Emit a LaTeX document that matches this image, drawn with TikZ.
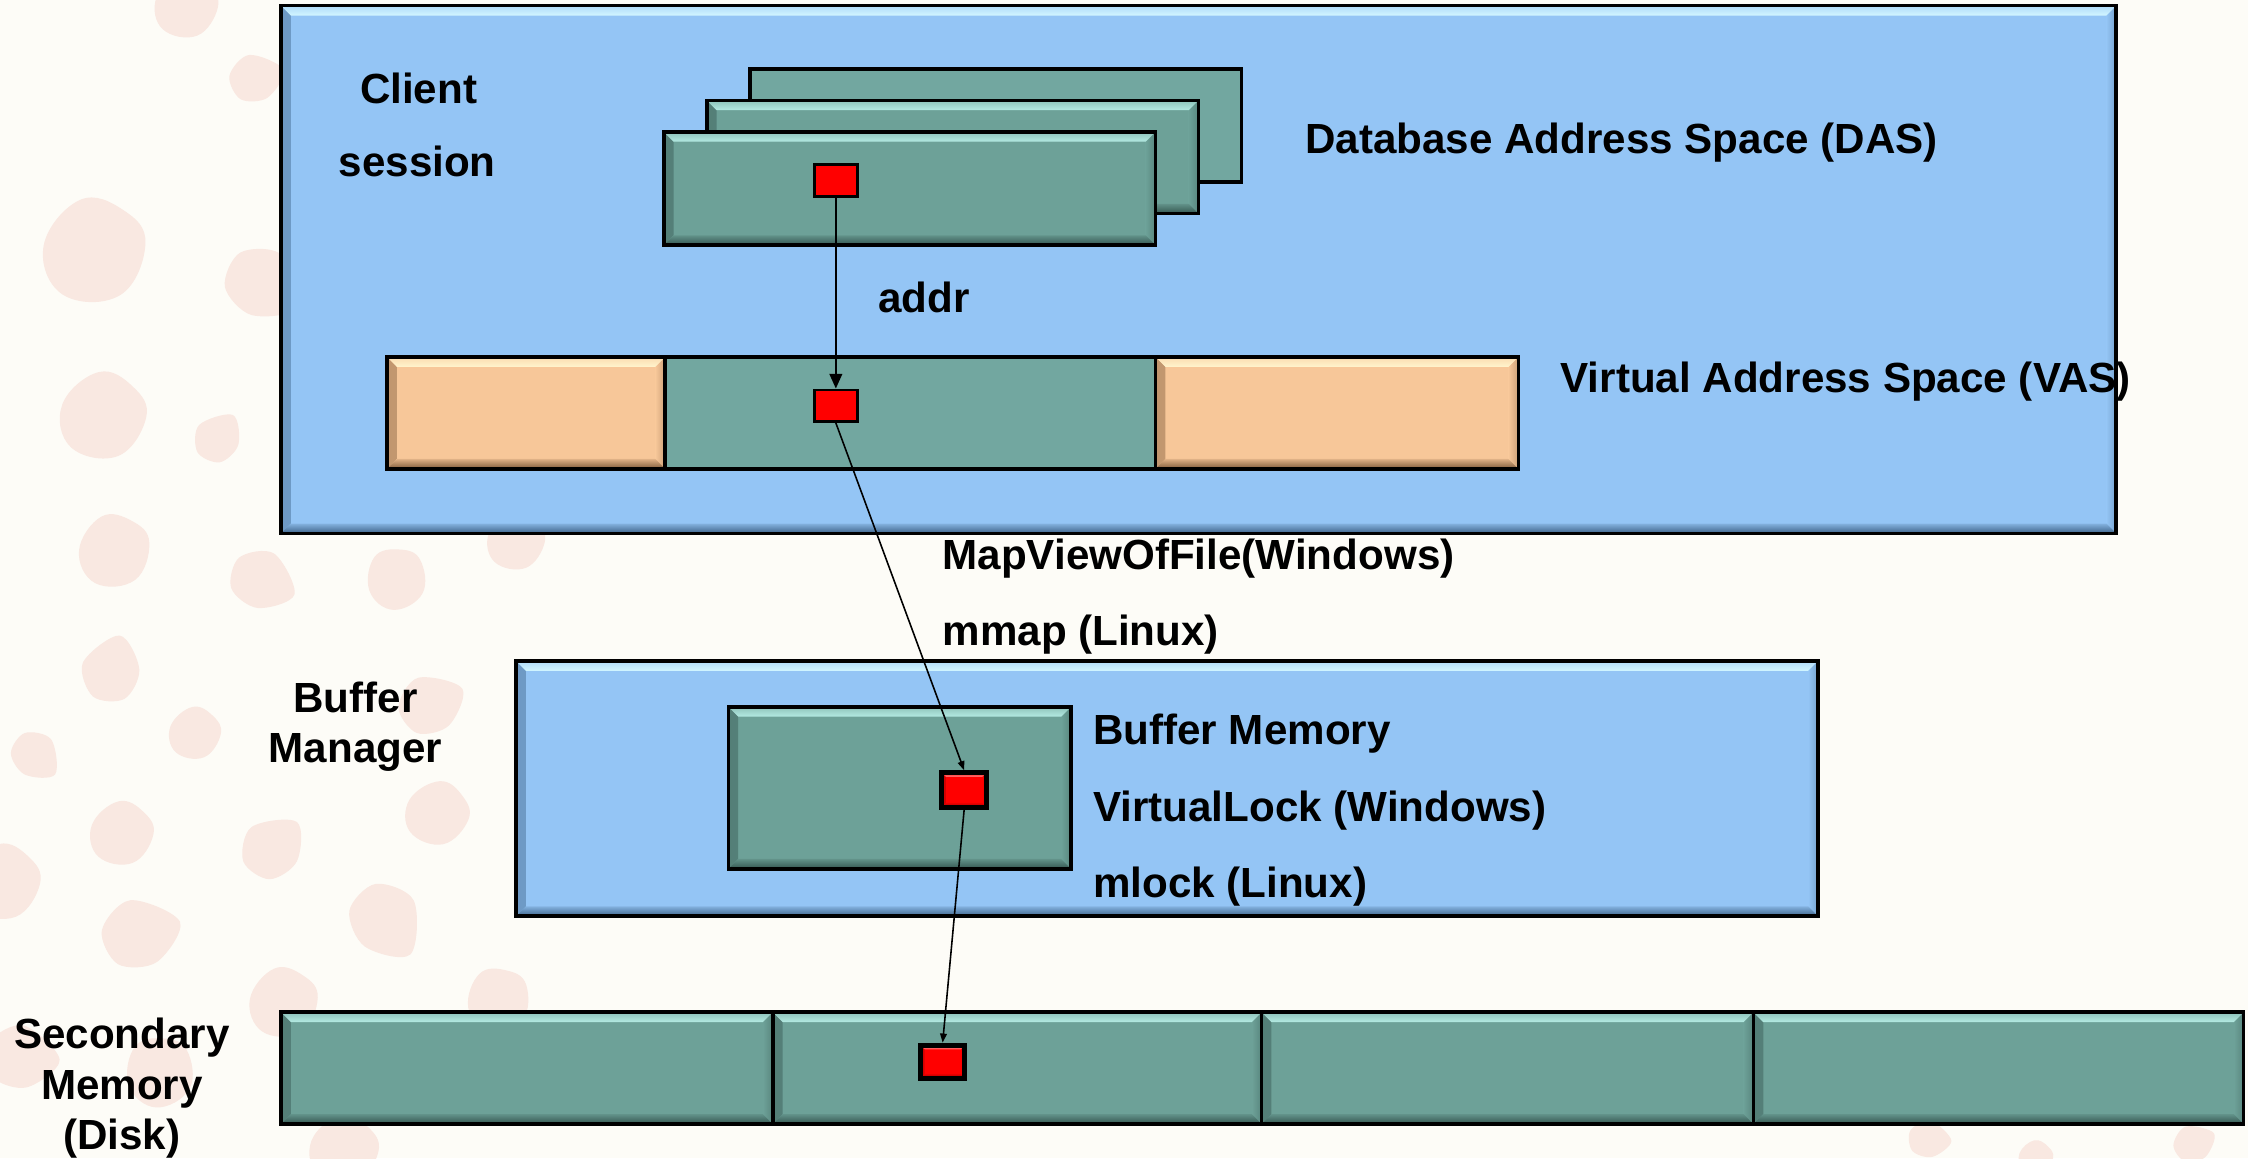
\documentclass[tikz,border=0pt]{standalone}
\usepackage{fontspec}
\setmainfont{Liberation Sans}
\usetikzlibrary{fit,arrows.meta}

\definecolor{paper}{HTML}{FDFCF7}
\definecolor{blobc}{HTML}{F9E8E1}
\definecolor{blueC}{HTML}{94C5F5}
\definecolor{blueL}{HTML}{D2F6FF}
\definecolor{blueD}{HTML}{3F6489}
\definecolor{tealC}{HTML}{6DA198}
\definecolor{tealL}{HTML}{B4EAE2}
\definecolor{tealD}{HTML}{34554F}
\definecolor{tealF}{HTML}{72A7A0}
\definecolor{peachC}{HTML}{F7C799}
\definecolor{peachL}{HTML}{FFF4CC}
\definecolor{peachD}{HTML}{7E5A3A}
\definecolor{redC}{HTML}{FF0000}
\definecolor{redL}{HTML}{FF7070}
\definecolor{redD}{HTML}{9A0000}

% bevelled rectangle: #1 base, #2 highlight (top), #3 shadow (bottom)
\tikzset{
  bevel depth/.store in=\bvl, bevel depth=2.8pt,
  bevel/.style n args={3}{
    fill=#1,
    path picture={
      \shade[left color=#3!45!#1, right color=#1]
        (path picture bounding box.north west) -- (path picture bounding box.south west)
        -- ([shift={(\bvl,\bvl)}]path picture bounding box.south west)
        -- ([shift={(\bvl,-\bvl)}]path picture bounding box.north west) -- cycle;
      \shade[left color=#1, right color=#3!35!#1]
        (path picture bounding box.north east) -- (path picture bounding box.south east)
        -- ([shift={(-\bvl,\bvl)}]path picture bounding box.south east)
        -- ([shift={(-\bvl,-\bvl)}]path picture bounding box.north east) -- cycle;
      \shade[top color=#2!45!#1, bottom color=#2]
        (path picture bounding box.north west) -- (path picture bounding box.north east)
        -- ([shift={(-\bvl,-\bvl)}]path picture bounding box.north east)
        -- ([shift={(\bvl,-\bvl)}]path picture bounding box.north west) -- cycle;
      \shade[top color=#1!80!#3, bottom color=#3]
        (path picture bounding box.south west) -- (path picture bounding box.south east)
        -- ([shift={(-\bvl,\bvl)}]path picture bounding box.south east)
        -- ([shift={(\bvl,\bvl)}]path picture bounding box.south west) -- cycle;
    }},
  box/.style={rectangle, draw=black, line width=1pt, inner sep=0pt},
  bluebox/.style={box, bevel={blueC}{blueL}{blueD}},
  tealbox/.style={box, bevel={tealC}{tealL}{tealD}},
  peachbox/.style={box, bevel={peachC}{peachL}{peachD}},
  flatteal/.style={box, fill=tealF},
  flag/.style={rectangle, draw=black, line width=0.8pt, fill=redC, inner sep=0pt},
  redbox/.style={box, line width=1.4pt, bevel depth=1.2pt, bevel={redC}{redL}{redD}},
  lbl/.style={font=\bfseries\fontsize{12}{14.6}\selectfont, inner sep=0pt},
  link/.style={line width=0.6pt, -{Triangle[length=4.2pt,width=3.6pt]}},
  thinlink/.style={line width=0.45pt, -{Triangle[length=2.6pt,width=1.9pt]}}
}

% soft background spots
\newcommand\spotA[4]{\fill[blobc, shift={(#1,#2)}, rotate=#4, scale=#3]
  plot[smooth cycle, tension=0.7] coordinates {(1,0) (0.35,0.9) (-0.75,0.7) (-0.95,-0.3) (-0.1,-1.05) (0.7,-0.7)};}
\newcommand\spotB[4]{\fill[blobc, shift={(#1,#2)}, rotate=#4, scale=#3]
  plot[smooth cycle, tension=0.55] coordinates {(1.15,0.05) (0.2,0.85) (-0.8,0.55) (-0.9,-0.45) (0.1,-0.95)};}

\begin{document}
\begin{tikzpicture}[x=0.014337cm, y=-0.014337cm]
\fill[paper] (0,0) rectangle (1568,808);
\useasboundingbox (0,0) rectangle (1568,808);

% background spots
\spotA{130}{5}{22}{0}
\spotB{178}{55}{18}{20}
\spotA{66}{176}{36}{10}
\spotB{182}{198}{26}{-30}
\spotA{72}{291}{30}{0}
\spotB{152}{306}{17}{60}
\spotA{80}{385}{25}{15}
\spotB{182}{405}{22}{-20}
\spotA{277}{404}{21}{40}
\spotA{360}{378}{20}{0}
\spotB{78}{468}{22}{80}
\spotA{136}{512}{18}{0}
\spotB{24}{527}{17}{-40}
\spotB{300}{492}{22}{30}
\spotA{85}{582}{22}{0}
\spotB{190}{592}{22}{50}
\spotA{305}{568}{22}{-10}
\spotA{2}{616}{26}{0}
\spotB{97}{652}{26}{20}
\spotA{198}{700}{24}{10}
\spotB{268}{642}{26}{-50}
\spotA{348}{698}{22}{30}
\spotB{14}{738}{24}{0}
\spotA{112}{748}{24}{40}
\spotA{240}{803}{24}{0}
\spotB{1345}{795}{14}{0}
\spotA{1420}{808}{12}{0}
\spotB{1530}{798}{14}{30}

% client session: database address space and virtual address space
\node[bluebox, fit={(196,4) (1476,372)}] (client) {};
\node[flatteal, fit={(523,48) (866,127)}] (das3) {};
\node[tealbox, fit={(493,70) (836,149)}] (das2) {};
\node[tealbox, fit={(463,92) (806,171)}] (das1) {};
\node[flag, fit={(568,115) (598,137)}] (fred) {};

\node[peachbox, fit={(270,249) (464,327)}] (vasL) {};
\node[flatteal, fit={(464,249) (806,327)}] (vasM) {};
\node[peachbox, fit={(806,249) (1059,327)}] (vasR) {};
\node[flag, fit={(568,272) (598,294)}] (vred) {};

\node[lbl, anchor=base] (tclient) at (292,72) {Client};
\node[lbl, anchor=base] (tsession) at (291,123) {session};
\node[lbl, anchor=base west] (tdas) at (910,107) {Database Address Space (DAS)};
\node[lbl, anchor=base west] (taddr) at (612,218) {addr};
\node[lbl, anchor=base west] (tvas) at (1088,274) {Virtual Address Space (VAS)};

% mapping calls
\node[lbl, anchor=base west] (tmap) at (657,397) {MapViewOfFile(Windows)};
\node[lbl, anchor=base west] (tmmap) at (657,450) {mmap (Linux)};

% buffer manager
\node[bluebox, fit={(360,461) (1268,639)}] (bufmgr) {};
\node[tealbox, fit={(508,493) (747,606)}] (bufmem) {};
\node[redbox, fit={(657,539) (688,563)}] (bred) {};
\node[lbl, anchor=base] (tbuf1) at (248,497) {Buffer};
\node[lbl, anchor=base] (tbuf2) at (248,532) {Manager};
\node[lbl, anchor=base west] (tbm) at (762,519) {Buffer Memory};
\node[lbl, anchor=base west] (tvl) at (762,573) {VirtualLock (Windows)};
\node[lbl, anchor=base west] (tml) at (762,626) {mlock (Linux)};

% secondary memory
\node[tealbox, fit={(196,706) (539,784)}] (disk1) {};
\node[tealbox, fit={(539,706) (880,784)}] (disk2) {};
\node[tealbox, fit={(880,706) (1223,784)}] (disk3) {};
\node[tealbox, fit={(1223,706) (1565,784)}] (disk4) {};
\node[redbox, fit={(642,729) (673,752)}] (dred) {};
\node[lbl, anchor=base] (tsec1) at (85,731) {Secondary};
\node[lbl, anchor=base] (tsec2) at (85,767) {Memory};
\node[lbl, anchor=base] (tsec3) at (85,802) {(Disk)};

% address translation path
\draw[link] (fred.south) -- (vred.north);
\draw[thinlink] (vred.south) -- (bred.north);
\draw[thinlink] (bred.south) -- (dred.north);
\end{tikzpicture}
\end{document}
